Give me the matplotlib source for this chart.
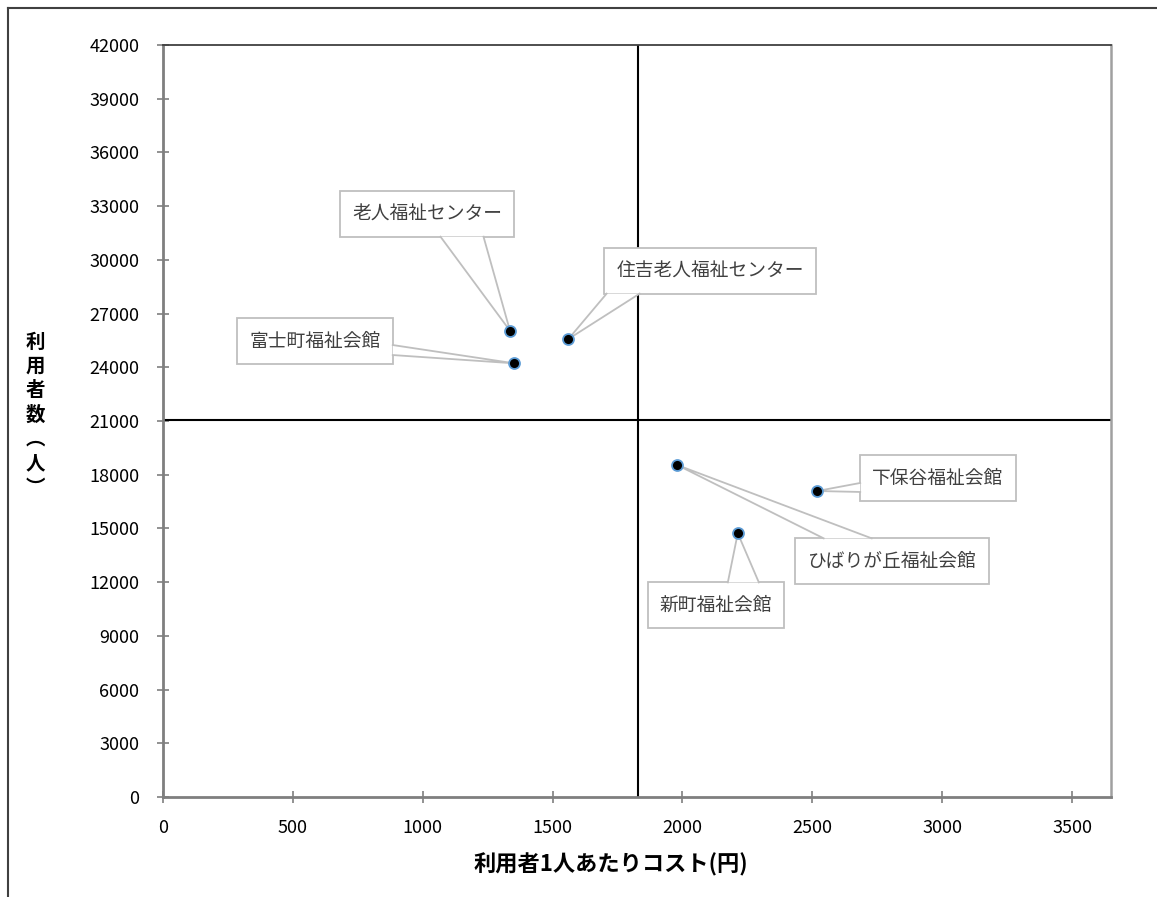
"""Scatter of cost per user vs. number of users for welfare facilities."""

import numpy as np
import matplotlib
matplotlib.use("Agg")
import matplotlib.pyplot as plt
from matplotlib.lines import Line2D

plt.rcParams["font.family"] = ["Noto Sans CJK JP", "DejaVu Sans"]

# Data
facilities = [
    "老人福祉センター",
    "住吉老人福祉センター",
    "富士町福祉会館",
    "下保谷福祉会館",
    "ひばりが丘福祉会館",
    "新町福祉会館",
]
cost_per_user = [1336, 1561, 1353, 2519, 1980, 2213]
users = [26040, 25580, 24220, 17090, 18540, 14730]

x_ticks = list(range(0, 3501, 500))
y_ticks = list(range(0, 42001, 3000))

# Label box placement (data coords), callout anchor on the box edge, base width (px)
label_xy = [(1017, 32560), (2106, 29380), (585, 25470),
            (2984, 17820), (2807, 13180), (2129, 10720)]
label_relpos = [(0.70, 0.0), (0.09, 0.0), (1.0, 0.3),
                (0.0, 0.29), (0.27, 1.0), (0.70, 1.0)]
wedge_px = [43, 33, 10, 9, 48, 31]

BOX_EDGE = "#bfbfbf"
MARKER_EDGE = "#5b9bd5"
AXIS_GREY = "#7f7f7f"

fig = plt.figure(figsize=(11.57, 8.97), dpi=100)
ax = fig.add_axes([163 / 1157, 1 - 797 / 897, (1111 - 163) / 1157, (797 - 45) / 897])

# Outer chart frame (only left/top visible in the crop)
fig.add_artist(Line2D([8 / 1157, 8 / 1157], [0, 1 - 8 / 897], color="#404040", lw=1.5))
fig.add_artist(Line2D([8 / 1157, 1], [1 - 8 / 897, 1 - 8 / 897], color="#404040", lw=1.5))

# Average lines
ax.axvline(np.mean(cost_per_user), color="black", lw=1.5, zorder=2)
ax.axhline(np.mean(users), color="black", lw=1.5, zorder=2)

ax.scatter(cost_per_user, users, s=62, color="black", edgecolors=MARKER_EDGE,
           linewidths=1.3, zorder=8)

ax.set_xlim(0, 3650)
ax.set_ylim(0, 42000)
ax.set_xticks(x_ticks)
ax.set_yticks(y_ticks)
ax.tick_params(axis="both", direction="inout", length=8, width=1.2,
               color=AXIS_GREY, labelsize=13, labelcolor="black")
ax.tick_params(axis="x", pad=12)
ax.tick_params(axis="y", pad=13)

for side in ("left", "bottom"):
    ax.spines[side].set_color(AXIS_GREY)
    ax.spines[side].set_linewidth(2)
ax.spines["top"].set_color("#404040")
ax.spines["top"].set_linewidth(1.3)
ax.spines["right"].set_color("#a0a0a0")
ax.spines["right"].set_linewidth(1.8)

labels = []
for name, (tx, ty) in zip(facilities, label_xy):
    t = ax.text(tx, ty, name, ha="center", va="center", fontsize=13.5,
                color="#404040", zorder=6,
                bbox=dict(boxstyle="square,pad=0.65", fc="white", ec=BOX_EDGE, lw=1.3))
    labels.append(t)

# Callout wedges: need the rendered box extents first
fig.canvas.draw()
renderer = fig.canvas.get_renderer()
to_data = ax.transData.inverted()
for t, x, y, (rx, ry), w in zip(labels, cost_per_user, users, label_relpos, wedge_px):
    bb = t.get_bbox_patch().get_window_extent(renderer)
    cx = bb.x0 + rx * bb.width
    cy = bb.y0 + ry * bb.height
    if ry in (0.0, 1.0):
        b1, b2 = (cx - w / 2, cy), (cx + w / 2, cy)
    else:
        b1, b2 = (cx, cy - w / 2), (cx, cy + w / 2)
    b1, b2 = to_data.transform([b1, b2])
    xs = [b1[0], x, b2[0]]
    ys = [b1[1], y, b2[1]]
    ax.fill(xs, ys, color="white", lw=0, zorder=7)
    ax.plot(xs, ys, color=BOX_EDGE, lw=1.3, zorder=7, solid_joinstyle="miter")

fig.text(611 / 1157, 1 - 865 / 897, "利用者1人あたりコスト(円)", ha="center",
         va="center", fontsize=16, fontweight="bold")
fig.text(35 / 1157, 1 - 415 / 897, "\n".join("利用者数︵人︶"), ha="center",
         va="center", fontsize=14, fontweight="bold", linespacing=1.35)

fig.savefig("out.png", dpi=100, facecolor="white")
